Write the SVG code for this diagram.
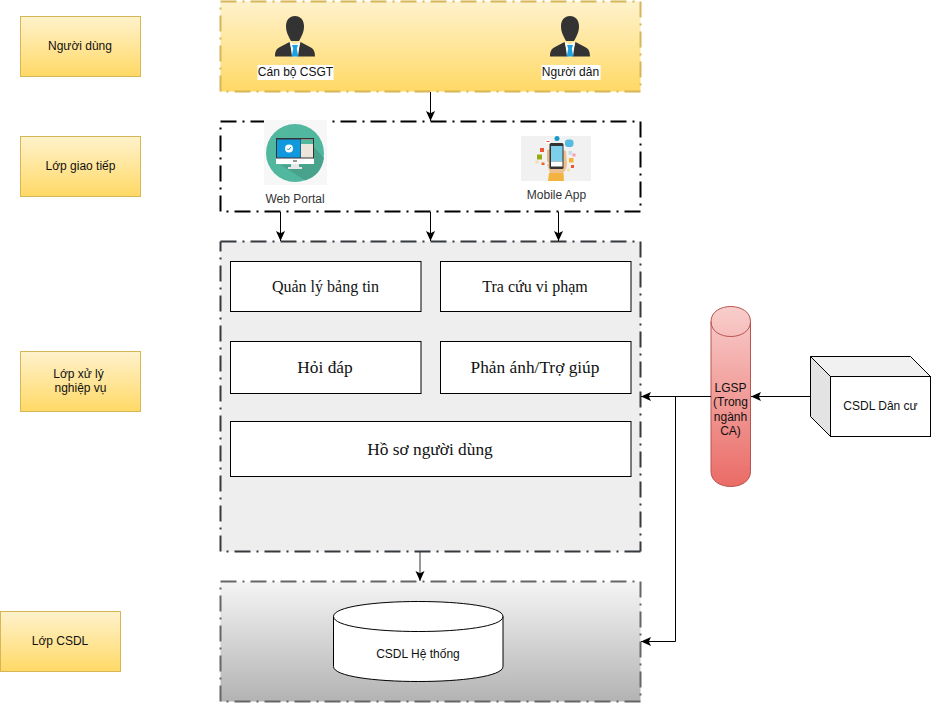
<svg xmlns="http://www.w3.org/2000/svg" width="931" height="703" viewBox="0 0 931 703">
<style>
text{font-family:"Liberation Sans",Arial,sans-serif;font-size:12px;fill:#111;text-anchor:middle}
.s16{font-family:"Liberation Serif","Times New Roman",serif;font-size:16px}
.s17{font-family:"Liberation Serif","Times New Roman",serif;font-size:17.33px}
.muted{fill:#333}
.layer{fill:none;stroke-width:2;stroke-dasharray:16 6 2 6}
.side{fill:url(#yellow);stroke:#d6b656}
.box{fill:#fff;stroke:#000}
.conn{fill:none;stroke:#000;marker-end:url(#arrow)}
.body{fill:#333}
</style>
<defs>
<linearGradient id="yellow" x1="0" y1="0" x2="0" y2="1"><stop offset="0" stop-color="#fff2cc"/><stop offset="1" stop-color="#ffd966"/></linearGradient>
<linearGradient id="grey" x1="0" y1="0" x2="0" y2="1"><stop offset="0" stop-color="#f5f5f5"/><stop offset="1" stop-color="#b3b3b3"/></linearGradient>
<linearGradient id="red" x1="0" y1="0" x2="0" y2="1"><stop offset="0" stop-color="#f8cecc"/><stop offset="1" stop-color="#ea6b66"/></linearGradient>
<marker id="arrow" markerUnits="userSpaceOnUse" markerWidth="12" markerHeight="10" refX="10" refY="4.500" orient="auto"><path d="M0 0L10 4.500L0 9L2.200 4.500Z" fill="#000"/></marker>
<g id="person">
<path class="body" d="M20 0c5.500 0 9 4.200 9 10c0 3-.5 5.500-1.500 8c-1 2.500-2.500 5-3.500 7h-8c-1-2-2.500-4.500-3.500-7c-1-2.500-1.500-5-1.500-8C11 4.200 14.500 0 20 0Z"/>
<path class="body" d="M0 40.500c0-5 1.500-8 5-9.500l9.500-5l4 14.500H0ZM40 40.500c0-5-1.500-8-5-9.500l-9.500-5l-4 14.500H40Z"/>
<path d="M15 26l5 2.500l5-2.500l-2 14.500h-6Z" fill="#fff"/>
<path d="M17 29h6l-1.200 3.500l1.500 8h-6.600l1.500-8Z" fill="#1ba1e2"/>
</g>
</defs>

<g id="label-nguoi-dung"><rect class="side" x="20.500" y="16.500" width="120" height="60"/><text x="80" y="50">Người dùng</text></g>
<g id="label-giao-tiep"><rect class="side" x="20.500" y="136.500" width="120" height="60"/><text x="80.500" y="170">Lớp giao tiếp</text></g>
<g id="label-xu-ly"><rect class="side" x="20.500" y="351.500" width="120" height="60"/><text x="78.500" y="378">Lớp xử lý</text><text x="80.500" y="392">nghiệp vụ</text></g>
<g id="label-csdl"><rect class="side" x="0.500" y="611.500" width="120" height="60"/><text x="60" y="645">Lớp CSDL</text></g>

<g id="layer-user">
<rect x="220.500" y="1.500" width="420" height="90" fill="url(#yellow)"/>
<path class="layer" stroke="#d6b656" d="M220.500 1.500H640.500M640.500 1.500V91.500M640.500 91.500H220.500M220.500 91.500V1.500"/>
<use href="#person" x="275" y="16"/>
<use href="#person" x="550" y="16"/>
<rect x="257.500" y="65" width="76" height="15" fill="#fff"/>
<text x="295.500" y="76">Cán bộ CSGT</text>
<rect x="541.500" y="65" width="59" height="15" fill="#fff"/>
<text x="570.500" y="76">Người dân</text>
</g>

<g id="layer-ui">
<rect x="220.500" y="121.500" width="420" height="90" fill="#fff"/>
<path class="layer" stroke="#000" d="M220.500 121.500H640.500M640.500 121.500V211.500M640.500 211.500H220.500M220.500 211.500V121.500"/>
<g id="web-portal">
<rect x="264" y="120" width="63" height="65" fill="#f7f7f7"/>
<circle cx="295" cy="153" r="29" fill="#52b79f"/>
<path d="M281 165L305 180.500C316 177 322 170 324 158L313 146L313 164Z" fill="#48a28c"/>
<rect x="276" y="138" width="38" height="21" fill="#333"/>
<rect x="277" y="139.500" width="23.500" height="18" fill="#1199dd"/>
<rect x="301" y="139.500" width="12" height="18" fill="#ebe5dc"/>
<rect x="301" y="140" width="12" height="4" fill="#52b79f"/>
<circle cx="289" cy="148.500" r="4" fill="#fff"/>
<path d="M287 148.500l1.500 1.500l2.500-3" fill="none" stroke="#1199dd"/>
<rect x="276" y="158.500" width="38" height="5.500" fill="#fff"/>
<rect x="293" y="160.500" width="4" height="1" fill="#333"/>
<path d="M291 164h8v3h3v2h-14v-2h3Z" fill="#e8e8e8"/>
<text class="muted" x="295" y="203">Web Portal</text>
</g>
<g id="mobile-app">
<rect x="521" y="136" width="70" height="45" fill="#f1f1f1"/>
<path d="M547 150l3-1v16l-3-4Z" fill="#e9b98c"/>
<path d="M563 150l3 1l1 13c0 4-2 7-4 9h-13l-3-9l3 0Z" fill="#eec08f"/>
<rect x="549.500" y="143" width="14" height="26" rx="1.500" fill="#333"/>
<rect x="551" y="146" width="11.500" height="15.500" fill="#7ed0ea"/>
<rect x="551" y="161.500" width="11.500" height="5" fill="#fff"/>
<path d="M549 173h14.500l.500 8h-16Z" fill="#f3b340"/>
<circle cx="557" cy="138.500" r="2.500" fill="#1a9ac8"/>
<rect x="565" y="139.500" width="8.500" height="7.500" rx="3" fill="#55bbe0"/>
<ellipse cx="548" cy="141.500" rx="3" ry="2" fill="#fff"/>
<rect x="546.500" y="141" width="3" height="1" fill="#e44"/>
<rect x="540" y="148" width="4" height="4" fill="#ee5533"/>
<rect x="537" y="154.500" width="5" height="5" fill="#99aa11"/>
<rect x="541.500" y="162.500" width="3" height="2.500" fill="#ee6622"/>
<circle cx="537" cy="162" r="1.800" fill="#f2dcb0"/>
<rect x="568.500" y="151" width="3.500" height="3.500" fill="#c5dbe5"/>
<circle cx="574" cy="155" r="1.800" fill="#f6a0b8"/>
<rect x="569" y="158" width="4.500" height="4.500" fill="#f3b136"/>
<rect x="571" y="165" width="3" height="3" fill="#ee5533"/>
<circle cx="568.500" cy="170" r="1.800" fill="#efe4b0"/>
<text class="muted" x="556.500" y="199">Mobile App</text>
</g>
</g>

<g id="layer-logic">
<rect x="220.500" y="241.500" width="420" height="310" fill="#eeeeee"/>
<path class="layer" stroke="#36393d" d="M220.500 241.500H640.500M640.500 241.500V551.500M640.500 551.500H220.500M220.500 551.500V241.500"/>
</g>
<g id="quan-ly-bang-tin"><rect class="box" x="230.500" y="261.500" width="190.500" height="50"/><text class="s16" x="325.500" y="292">Quản lý bảng tin</text></g>
<g id="tra-cuu-vi-pham"><rect class="box" x="440.500" y="261.500" width="190.500" height="50"/><text class="s16" x="535" y="292">Tra cứu vi phạm</text></g>
<g id="hoi-dap"><rect class="box" x="230.500" y="341.500" width="190.500" height="52"/><text class="s17" x="325" y="373">Hỏi đáp</text></g>
<g id="phan-anh"><rect class="box" x="440.500" y="341.500" width="190.500" height="52"/><text class="s17" x="535" y="373">Phản ánh/Trợ giúp</text></g>
<g id="ho-so"><rect class="box" x="230.500" y="421.500" width="400.500" height="55"/><text class="s17" x="430" y="455">Hồ sơ người dùng</text></g>

<g id="layer-db">
<rect x="220.500" y="581.500" width="420" height="120" fill="url(#grey)"/>
<path class="layer" stroke="#666" d="M220.500 581.500H640.500M640.500 581.500V701.500M640.500 701.500H220.500M220.500 701.500V581.500"/>
</g>
<g id="csdl-he-thong">
<path class="box" d="M333.500 616.500C333.500 596.500 503 596.500 503 616.500V666.500C503 686.500 333.500 686.500 333.500 666.500Z"/>
<path d="M333.500 616.500C333.500 636.500 503 636.500 503 616.500" fill="none" stroke="#000"/>
<text x="418" y="658">CSDL Hệ thống</text>
</g>

<g id="lgsp">
<path d="M711 321.500C711 301.500 750.500 301.500 750.500 321.500V471.500C750.500 491.500 711 491.500 711 471.500Z" fill="url(#red)" stroke="#b85450"/>
<path d="M711 321.500C711 341.500 750.500 341.500 750.500 321.500" fill="none" stroke="#b85450"/>
<text x="730.500" y="392">LGSP</text><text x="730.500" y="406">(Trong</text><text x="730.500" y="421">ngành</text><text x="730.500" y="435">CA)</text>
</g>

<g id="csdl-dan-cu">
<path d="M810.500 356.500H910.500L930.500 376.500H830.500Z" fill="#f1f1f1" stroke="#000"/>
<path d="M810.500 356.500L830.500 376.500V436.500L810.500 416.500Z" fill="#e3e3e3" stroke="#000"/>
<rect class="box" x="830.500" y="376.500" width="100" height="60"/>
<text x="880.500" y="410">CSDL Dân cư</text>
</g>

<g id="connectors">
<path class="conn" d="M430.500 92V121"/>
<path class="conn" d="M280.500 212V241"/>
<path class="conn" d="M430.500 212V241"/>
<path class="conn" d="M558.500 212V241"/>
<path class="conn" d="M420 552V581" style="stroke:#333"/>
<path class="conn" d="M810 396.500H751"/>
<path class="conn" d="M711 396.500H641"/>
<path class="conn" d="M675.500 396.500V641.500H641"/>
</g>
</svg>
